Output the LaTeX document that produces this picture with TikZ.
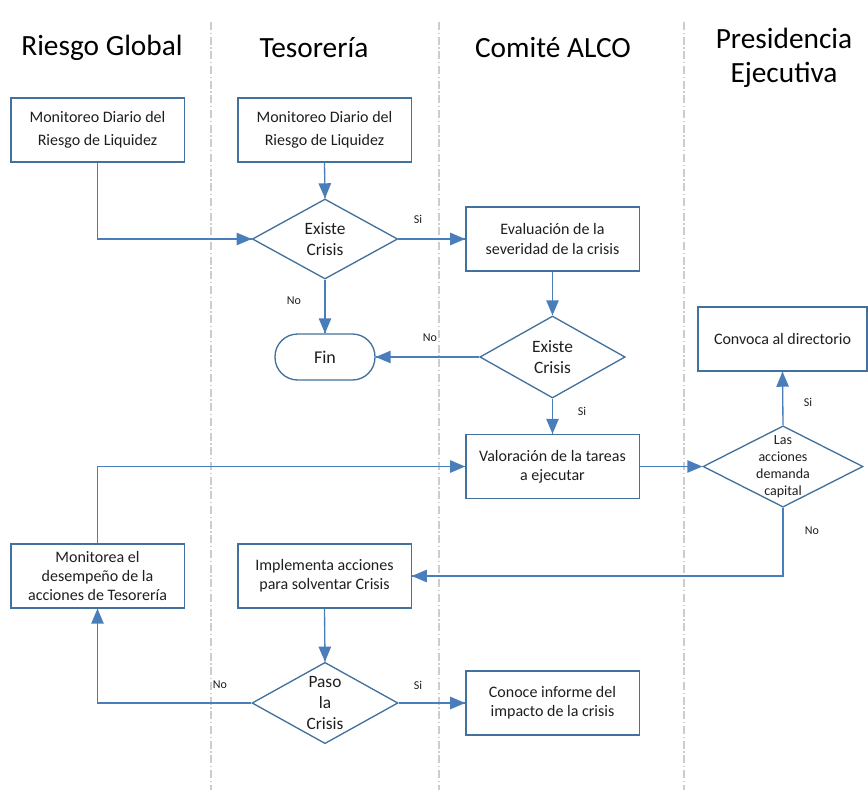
\documentclass[tikz,border=0pt]{standalone}
\usepackage{fontspec}
\setmainfont{Carlito}
\usetikzlibrary{arrows,shapes.geometric,decorations.markings}
\definecolor{linea}{RGB}{74,126,187}
\definecolor{borde}{RGB}{65,113,156}
\definecolor{carril}{RGB}{205,205,205}
\definecolor{texto}{RGB}{30,30,30}

\begin{document}
\begin{tikzpicture}[x=0.75pt,y=-0.75pt,
    caja/.style={draw=borde, line width=1pt, rectangle, minimum width=130pt, minimum height=48pt, inner sep=0pt, align=center, text=texto, font=\fontsize{12}{14.5}\selectfont},
    rombo/.style={draw=borde, line width=1pt, diamond, minimum width=109pt, minimum height=60pt, inner sep=0pt},
    rtexto/.style={align=center, text=texto, font=\fontsize{13}{15.5}\selectfont},
    fin/.style={draw=borde, line width=1pt, rectangle, rounded corners=17pt, minimum width=75pt, minimum height=34.5pt, text=texto, font=\fontsize{13.5}{15.5}\selectfont},
    titulo/.style={align=center, text=black, font=\fontsize{22}{25.5}\selectfont},
    etiqueta/.style={text=texto, font=\fontsize{9}{11}\selectfont},
    divisor/.style={draw=carril, line width=0.8pt, dash pattern=on 6pt off 2pt on 1pt off 2pt},
    flecha/.style={draw=linea, line width=1pt, decoration={markings,mark=at position 1 with
    {\arrow[scale=1.3,>=triangle 45]{>}}},postaction={decorate}}]

\useasboundingbox (0,0) rectangle (868,790);

\foreach \x in {211,439,684} {
    \draw[divisor] (\x,22) -- (\x,790);
}

% carriles
\node[titulo] (tRG) at (102,48) {Riesgo Global};
\node[titulo] (tTES) at (314,48) {Tesorería};
\node[titulo] (tALCO) at (553,48) {Comité ALCO};
\node[titulo] (tPE) at (784,58) {Presidencia\\Ejecutiva};

% cajas
\node[caja, font=\fontsize{12}{17}\selectfont] (rg1) at (97.5,130) {Monitoreo Diario del\\Riesgo de Liquidez};
\node[caja, font=\fontsize{12}{17}\selectfont] (tes1) at (324.5,130) {Monitoreo Diario del\\Riesgo de Liquidez};
\node[caja] (alco1) at (552.5,239) {Evaluación de la\\severidad de la crisis};
\node[caja] (alco2) at (552.5,466.5) {Valoración de la tareas\\a ejecutar};
\node[caja, minimum width=126.75pt] (pe1) at (782.5,339) {Convoca al directorio};
\node[caja] (rg2) at (97.5,576) {Monitorea el\\desempeño de la\\acciones de Tesorería};
\node[caja] (tes2) at (324.5,576) {Implementa acciones\\para solventar Crisis};
\node[caja] (alco3) at (552.5,703) {Conoce informe del\\impacto de la crisis};
\node[fin] (fin) at (325,357) {Fin};

% decisiones
\node[rombo] (d1) at (325,239) {};
\node[rtexto] (d1t) at (d1) {Existe\\Crisis};
\node[rombo, minimum height=61.5pt] (d2) at (552.5,357) {};
\node[rtexto] (d2t) at (d2) {Existe\\Crisis};
\node[rombo, minimum width=120pt, minimum height=61pt] (d3) at (783,466.5) {};
\node[rtexto, font=\fontsize{10.5}{12.9}\selectfont] (d3t) at (d3) {Las\\acciones\\demanda\\capital};
\node[rombo, minimum width=109.5pt, minimum height=61pt] (d4) at (325,703) {};
\node[rtexto] (d4t) at (d4) {Paso\\la\\Crisis};

% etiquetas
\node[etiqueta] (si1) at (418,219) {Si};
\node[etiqueta] (no1) at (294,301) {No};
\node[etiqueta] (no2) at (430,338) {No};
\node[etiqueta] (si2) at (582,411) {Si};
\node[etiqueta] (si3) at (808,402) {Si};
\node[etiqueta] (no3) at (812,531) {No};
\node[etiqueta] (no4) at (220,685) {No};
\node[etiqueta] (si4) at (418,685) {Si};

% flechas
\draw[flecha] (rg1.south) |- (d1.west);
\draw[flecha] (tes1.south) -- (d1.north);
\draw[flecha] (d1.east) -- (alco1.west);
\draw[flecha] (d1.south) -- (fin.north);
\draw[flecha] (alco1.south) -- (d2.north);
\draw[flecha] (d2.west) -- (fin.east);
\draw[flecha] (d2.south) -- (alco2.north);
\draw[flecha] (alco2.east) -- (d3.west);
\draw[flecha] (d3.north) -- (pe1.south);
\draw[flecha] (d3.south) |- (tes2.east);
\draw[flecha] (rg2.north) |- (alco2.west);
\draw[flecha] (tes2.south) -- (d4.north);
\draw[flecha] (d4.west) -| (rg2.south);
\draw[flecha] (d4.east) -- (alco3.west);
\end{tikzpicture}
\end{document}
